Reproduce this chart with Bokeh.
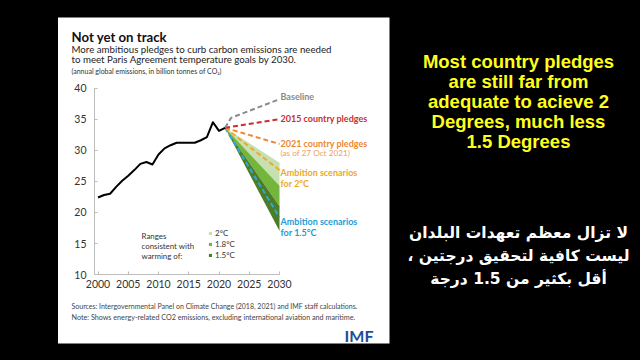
from bokeh.plotting import figure
from bokeh.models import (Label, BoxAnnotation, Legend, LegendItem, FixedTicker,
                          GlobalInlineStyleSheet, Range1d)
from bokeh.embed import file_html
from bokeh.resources import INLINE

# ---------------- data ----------------
years = list(range(2000, 2022))
emissions = [22.4, 22.8, 23.0, 24.1, 25.1, 25.9, 26.8, 27.8, 28.1, 27.7, 29.3,
             30.3, 30.8, 31.2, 31.2, 31.2, 31.2, 31.6, 32.1, 34.5, 33.1, 33.6]

baseline_years = [2021, 2022, 2030]
baseline = [33.6, 35.2, 38.2]

scenario_years = [2021, 2030]
pledges_2015 = [33.6, 35.0]
pledges_2021 = [33.6, 31.0]
ambition_2c = [33.6, 26.8]
ambition_15c = [33.6, 19.2]

warming_levels = ["2°C", "1.8°C", "1.5°C"]
fan_start = 33.6
fan_top_2030 = [28.0, 24.3, 21.0]
fan_bottom_2030 = [24.3, 21.0, 17.0]
fan_years = [2021, 2030, 2030]

x_ticks = [2000, 2005, 2010, 2015, 2020, 2025, 2030]
y_ticks = [10, 15, 20, 25, 30, 35, 40]

# ---------------- geometry (reference-window pixels) ----------------
W, H = 624, 344
PX2000, XS = 97.5, 6.05     # x pixel of year 2000, pixels per year
PY40, YS = 87.5, 6.22       # y pixel of value 40, pixels per unit


def X(px):
    return 2000 + (px - PX2000) / XS


def Y(py):
    return 40 - (py - PY40) / YS


p = figure(width=W, height=H, output_backend="svg", toolbar_location=None, title=None,
           x_range=Range1d(X(8), X(8 + W)), y_range=Range1d(Y(8 + H), Y(8)),
           min_border_left=0, min_border_right=0, min_border_top=0, min_border_bottom=0)
p.border_fill_color = "black"
p.background_fill_color = "black"
p.outline_line_color = None
p.grid.visible = False
p.stylesheets = [GlobalInlineStyleSheet(
    css="html{background:#000 !important;} body{background:#000 !important; margin:8px !important; padding:0 !important;}")]

# white panel
p.add_layout(BoxAnnotation(left=X(57.5), right=X(389), top=Y(17), bottom=Y(343),
                           fill_color="white", fill_alpha=1, line_color=None,
                           level="underlay"))

# axes drawn inside the frame
for ax in (p.xaxis[0], p.yaxis[0]):
    ax.axis_line_color = "#bdbdbd"
    ax.major_tick_line_color = "#bdbdbd"
    ax.major_tick_in = 3
    ax.major_tick_out = 0
    ax.minor_tick_line_color = None
    ax.major_label_text_font = "Lato"
    ax.major_label_text_font_size = "10.5px"
    ax.major_label_text_color = "#333333"
p.xaxis[0].ticker = FixedTicker(ticks=x_ticks)
p.yaxis[0].ticker = FixedTicker(ticks=y_ticks)
p.xaxis[0].fixed_location = y_ticks[0]
p.xaxis[0].bounds = (X(94), x_ticks[-1])
p.yaxis[0].fixed_location = X(94)
p.yaxis[0].bounds = (y_ticks[0], y_ticks[-1])
p.xaxis[0].major_label_standoff = 5
p.yaxis[0].major_label_standoff = 8

# fan of ambition scenarios
fan_colors = ["#C6E0AF", "#74B63B", "#4D7C27"]
legend_items = []
for lvl, top, bot, col in zip(warming_levels, fan_top_2030, fan_bottom_2030, fan_colors):
    r = p.patch(fan_years, [fan_start, top, bot], fill_color=col, line_color=None)
    legend_items.append(LegendItem(label=lvl, renderers=[r]))

dash = "5 3"
p.line(scenario_years, ambition_15c, line_color="#2AA9D8", line_width=2, line_dash=dash)
p.line(scenario_years, ambition_2c, line_color="#EFA92E", line_width=2, line_dash=dash)
p.line(scenario_years, pledges_2021, line_color="#EB8735", line_width=2, line_dash=dash)
p.line(scenario_years, pledges_2015, line_color="#C8302E", line_width=2, line_dash=dash)
p.line(baseline_years, baseline, line_color="#8A8A8A", line_width=2, line_dash=dash)
p.line(years, emissions, line_color="black", line_width=2, line_join="round")

legend = Legend(items=legend_items, location=(200, 92), orientation="vertical",
                background_fill_alpha=0, border_line_color=None, padding=0, margin=0,
                spacing=1, label_height=8, glyph_height=4, glyph_width=4,
                label_standoff=3, label_text_font="Lato", label_text_font_size="8px",
                label_text_color="#333333")
p.add_layout(legend)


def lab(text, px, py, size, color, bold=False, align="left", font="Lato"):
    p.add_layout(Label(x=X(px), y=Y(py), text=text, text_font=font,
                       text_font_size=f"{size}px", text_color=color,
                       text_font_style="bold" if bold else "normal",
                       text_align=align, text_baseline="middle"))


# titles
lab("Not yet on track", 71, 36, 13.2, "#111111", bold=True)
lab("More ambitious pledges to curb carbon emissions are needed", 71, 48.7, 9.7, "#222222")
lab("to meet Paris Agreement temperature goals by 2030.", 71, 58.7, 9.7, "#222222")
lab("(annual global emissions, in billion tonnes of CO\u2082)", 71, 70.3, 7.0, "#333333")

# in-plot text
lab("Ranges", 141, 235, 7.9, "#333333")
lab("consistent with", 141, 245, 7.9, "#333333")
lab("warming of:", 141, 255, 7.9, "#333333")

lab("Baseline", 280, 95.7, 9.0, "#8A8A8A", bold=True)
lab("2015 country pledges", 280, 118.3, 9.0, "#C8302E", bold=True)
lab("2021 country pledges", 280, 143.3, 9.0, "#EB8735", bold=True)
lab("(as of 27 Oct 2021)", 280, 152.7, 8.2, "#EFA060")
lab("Ambition scenarios", 280, 172.3, 9.0, "#EDA823", bold=True)
lab("for 2°C", 280, 182.7, 9.0, "#EDA823", bold=True)
lab("Ambition scenarios", 280, 220.7, 9.0, "#1E9BD6", bold=True)
lab("for 1.5°C", 280, 231.7, 9.0, "#1E9BD6", bold=True)

# sources
lab("Sources: Intergovernmental Panel on Climate Change (2018, 2021) and IMF staff calculations.",
    71, 305.7, 7.0, "#444444")
lab("Note: Shows energy-related CO2 emissions, excluding international aviation and maritime.",
    71, 316.7, 7.2, "#444444")
lab("IMF", 373, 335, 16, "#1D4E9B", bold=True, align="right")

# right-side commentary
yellow = ["Most country pledges", "are still far from", "adequate to acieve 2",
          "Degrees, much less", "1.5 Degrees"]
for i, t in enumerate(yellow):
    lab(t, 518, 60.7 + i * 20, 18.5, "#FFFF1E", bold=True, align="center",
        font="Liberation Sans")

arabic = ["لا تزال معظم تعهدات البلدان", "ليست كافية لتحقيق درجتين ،", "أقل بكثير من 1.5 درجة"]
for i, t in enumerate(arabic):
    lab("\u200F" + t + "\u200F", 518, 232 + i * 23, 15.5, "#FFFFFF", bold=True,
        align="center", font="DejaVu Sans")

open("out.html", "w").write(file_html(p, INLINE))
